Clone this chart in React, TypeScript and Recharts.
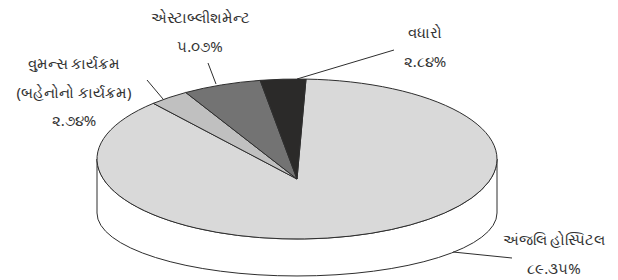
import { Pie, PieChart } from "recharts";

// slices in drawing order, clockwise from roughly 12 o'clock
const NAMES = ["અંજલિ હોસ્પિટલ", "વુમન્સ કાર્યક્રમ (બહેનોનો કાર્યક્રમ)", "એસ્ટાબ્લીશમેન્ટ", "વધારો"];
const VALUES = [89.35, 2.74, 5.07, 2.84];
const COLORS = ["#d9d9d9", "#c0c0c0", "#737373", "#2b2a29"];

// label placement (text centre x, first baseline y, leader line)
const LABEL_POS = [
  { x: 554, y: 245, line: [453, 252, 512, 258] },
  { x: 74, y: 69, line: [147, 80, 163, 99] },
  { x: 200, y: 23, line: [208, 63, 216, 84] },
  { x: 425, y: 38, line: [394, 50, 297, 79] },
];

const W = 618;
const H = 280;
const TILT = 0.4; // ry / rx of the top face
const K = -0.25; // perspective of the top face
const WALL_DROP = 54; // bottom ellipse centre below top ellipse centre
const BOTTOM_TILT = 0.315;
const STROKE = "#2e2e2e";
const TEXT = "#333";

const GU = "૦૧૨૩૪૫૬૭૮૯";
const toGu = (s: string) => s.replace(/\d/g, (d) => GU[+d]);

const data = VALUES.map((v, i) => ({ name: NAMES[i], value: v, fill: COLORS[i] }));

const RAD = Math.PI / 180;
const SQ = Math.sqrt(1 - K * K);

// true angle -> parametric angle on the projected ellipse (degrees)
function phi(deg: number) {
  const t = deg * RAD;
  const w = 1 + K * Math.sin(t);
  const xp = Math.cos(t) / w;
  const yp = (Math.sin(t) + K) / w;
  return Math.atan2(yp, xp * SQ) / RAD;
}

function SliceShape(props: any) {
  const { cx, cy, outerRadius, startAngle, endAngle, fill } = props;
  const rx = outerRadius;
  const ry = outerRadius * TILT;
  const cyB = cy + WALL_DROP;
  const ryB = outerRadius * BOTTOM_TILT;
  const top = (p: number) => [cx + rx * Math.cos(p * RAD), cy - ry * Math.sin(p * RAD)];
  const bot = (p: number) => [cx + rx * Math.cos(p * RAD), cyB - ryB * Math.sin(p * RAD)];

  const ps = phi(startAngle);
  let pe = phi(endAngle);
  const span = startAngle - endAngle;
  while (pe > ps) pe -= 360;
  if (span > 0 && ps - pe < 1e-6 && span > 359) pe = ps - 360;

  const walls: string[] = [];
  for (let n = -1; n <= 1; n++) {
    const lo = Math.max(pe, -180 + 360 * n);
    const hi = Math.min(ps, 360 * n);
    if (lo < hi) {
      const a = top(hi);
      const b = bot(hi);
      const c = bot(lo);
      const d = top(lo);
      walls.push(
        `M${a[0]},${a[1]} L${b[0]},${b[1]} A${rx},${ryB} 0 0 1 ${c[0]},${c[1]} L${d[0]},${d[1]} A${rx},${ry} 0 0 0 ${a[0]},${a[1]} Z`
      );
    }
  }

  const s = top(ps);
  const e = top(pe);
  const large = ps - pe > 180 ? 1 : 0;
  const apex = [cx, cy - ry * K];
  const face = `M${apex[0]},${apex[1]} L${s[0]},${s[1]} A${rx},${ry} 0 ${large} 1 ${e[0]},${e[1]} Z`;

  return (
    <g>
      {walls.map((d, i) => (
        <path key={i} d={d} fill="#ffffff" stroke={STROKE} strokeWidth={1} />
      ))}
      <path d={face} fill={fill} stroke={STROKE} strokeWidth={1} strokeLinejoin="round" />
    </g>
  );
}

function renderLabel(props: any) {
  const { index, name, value } = props;
  const pos = LABEL_POS[index];
  if (!pos) return null;
  const lines = String(name).split(" (").map((l, i) => (i > 0 ? "(" + l : l));
  lines.push(toGu(value.toFixed(2)) + "%");
  const [x1, y1, x2, y2] = pos.line;
  return (
    <g key={`lbl-${index}`}>
      <line x1={x1} y1={y1} x2={x2} y2={y2} stroke={STROKE} strokeWidth={1} />
      <text x={pos.x} y={pos.y} textAnchor="middle" fill={TEXT} fontSize={15} fontFamily="'Noto Sans', sans-serif">
        {lines.map((l, i) => (
          <tspan key={i} x={pos.x} dy={i === 0 ? 0 : 28.5}>
            {l}
          </tspan>
        ))}
      </text>
    </g>
  );
}

export default function App() {
  return (
    <div style={{ position: "fixed", left: 0, top: 0, width: W, height: H, background: "#fff" }}>
      <PieChart width={W} height={H} margin={{ top: 0, right: 0, bottom: 0, left: 0 }}>
        <Pie
          data={data}
          dataKey="value"
          nameKey="name"
          cx={297}
          cy={159}
          outerRadius={200}
          startAngle={88}
          endAngle={-272}
          shape={SliceShape}
          activeShape={SliceShape}
          inactiveShape={SliceShape}
          label={renderLabel}
          labelLine={false}
          isAnimationActive={false}
        />
      </PieChart>
    </div>
  );
}
